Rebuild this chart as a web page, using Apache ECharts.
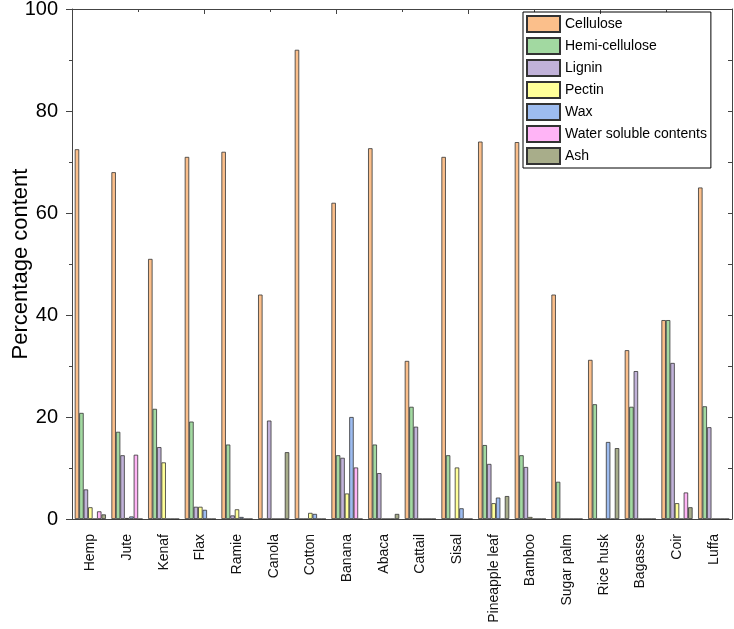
<!DOCTYPE html>
<html>
<head>
<meta charset="utf-8">
<script src="https://cdn.jsdelivr.net/npm/echarts@6/dist/echarts.min.js"></script>
<style>
  html, body { margin: 0; padding: 0; background: #fff; }
  #main { width: 734px; height: 629px; }
</style>
</head>
<body>
<div id="main"></div>
<script>
var fibres = ['Hemp', 'Jute', 'Kenaf', 'Flax', 'Ramie', 'Canola', 'Cotton', 'Banana', 'Abaca', 'Cattail',
    'Sisal', 'Pineapple leaf', 'Bamboo', 'Sugar palm', 'Rice husk', 'Bagasse', 'Coir', 'Luffa'];

// values, one array per component
var cellulose     = [72.5, 68, 51, 71, 72, 44, 92, 62, 72.7, 31, 71, 74, 73.9, 44, 31.2, 33.1, 39, 65];
var hemicellulose = [20.8, 17.1, 21.6, 19.1, 14.6, 0, 0, 12.5, 14.6, 22, 12.5, 14.5, 12.5, 7.3, 22.5, 22, 39, 22.1];
var lignin        = [5.8, 12.5, 14.1, 2.4, 0.7, 19.3, 0, 12, 9, 18.1, 0, 10.8, 10.2, 0, 0, 29, 30.6, 18];
var pectin        = [2.3, 0.2, 11.1, 2.4, 1.9, 0, 1.2, 5, 0, 0, 10.1, 3.1, 0.4, 0, 0, 0, 3.1, 0];
var wax           = [0, 0.5, 0, 1.8, 0.4, 0, 1, 20, 0, 0, 2.1, 4.2, 0, 0, 15.1, 0, 0, 0];
var waterSoluble  = [1.5, 12.6, 0, 0, 0, 0, 0, 10.1, 0, 0, 0, 0, 0, 0, 0, 0, 5.2, 0];
var ash           = [0.9, 0, 0, 0, 0, 13.1, 0, 0, 1, 0, 0, 4.5, 0, 0, 13.9, 0, 2.3, 0];

var seriesNames = ['Cellulose', 'Hemi-cellulose', 'Lignin', 'Pectin', 'Wax', 'Water soluble contents', 'Ash'];
var seriesData = [cellulose, hemicellulose, lignin, pectin, wax, waterSoluble, ash];
var colours = ['#fbbf8b', '#a2d9a1', '#c1b2d9', '#ffff99', '#9dbcf0', '#ffb4f6', '#a8ad8a'];

var fontName = 'Liberation Sans, Arial, sans-serif';
var axisColor = '#444';

var myChart = echarts.init(document.getElementById('main'), null, {renderer: 'canvas'});

var series = [];
for (var i = 0; i < seriesNames.length; i++) {
    series.push({
        name: seriesNames[i],
        type: 'bar',
        xAxisIndex: 0,
        yAxisIndex: 0,
        barGap: '0%',
        barCategoryGap: '15%',
        itemStyle: {color: colours[i], borderColor: '#333', borderWidth: 0.8},
        data: seriesData[i]
    });
}

option = {
    backgroundColor: '#fff',
    animation: false,
    textStyle: {fontFamily: fontName},
    grid: {left: 72, right: 2, top: 9, bottom: 110, containLabel: false, outerBoundsMode: 'none'},
    legend: {
        orient: 'vertical',
        left: 523,
        top: 12,
        padding: [3, 4, 3, 3],
        itemWidth: 33,
        itemHeight: 16,
        itemGap: 4,
        icon: 'rect',
        borderColor: '#000',
        borderWidth: 1,
        textStyle: {fontSize: 14, color: '#000', fontFamily: fontName},
        data: seriesNames
    },
    xAxis: [
        {
            type: 'category',
            data: fibres,
            position: 'bottom',
            axisLine: {show: true, lineStyle: {color: axisColor}},
            axisTick: {alignWithLabel: true, length: 6, lineStyle: {color: axisColor}},
            axisLabel: {rotate: 90, fontSize: 14, color: '#111', margin: 15, interval: 0}
        },
        {
            // boundary ticks between groups
            type: 'category',
            data: fibres,
            position: 'bottom',
            axisLine: {show: false},
            axisTick: {length: 3, lineStyle: {color: axisColor}},
            axisLabel: {show: false}
        },
        {
            // top frame
            type: 'value',
            position: 'top',
            min: 0,
            max: 10,
            interval: 2,
            axisLine: {show: true, lineStyle: {color: axisColor}},
            axisTick: {show: true, inside: true, length: 5, lineStyle: {color: axisColor}},
            minorTick: {show: true, splitNumber: 2, length: 3, lineStyle: {color: axisColor}},
            axisLabel: {show: false},
            splitLine: {show: false}
        }
    ],
    yAxis: [
        {
            type: 'value',
            min: 0,
            max: 100,
            interval: 20,
            name: 'Percentage content',
            nameLocation: 'middle',
            nameGap: 40,
            nameMoveOverlap: false,
            nameTextStyle: {fontSize: 22, color: '#000'},
            axisLine: {show: true, lineStyle: {color: axisColor}},
            axisTick: {show: true, length: 6, lineStyle: {color: axisColor}},
            minorTick: {show: true, splitNumber: 2, length: 3, lineStyle: {color: axisColor}},
            axisLabel: {fontSize: 20, color: '#000', margin: 14},
            splitLine: {show: false}
        },
        {
            // right frame
            type: 'value',
            position: 'right',
            min: 0,
            max: 100,
            interval: 20,
            axisLine: {show: true, lineStyle: {color: axisColor}},
            axisTick: {show: true, inside: true, length: 4, lineStyle: {color: axisColor}},
            minorTick: {show: true, splitNumber: 2, length: 4, lineStyle: {color: axisColor}},
            axisLabel: {show: false},
            splitLine: {show: false}
        }
    ],
    series: series
};

myChart.setOption(option);
</script>
</body>
</html>
